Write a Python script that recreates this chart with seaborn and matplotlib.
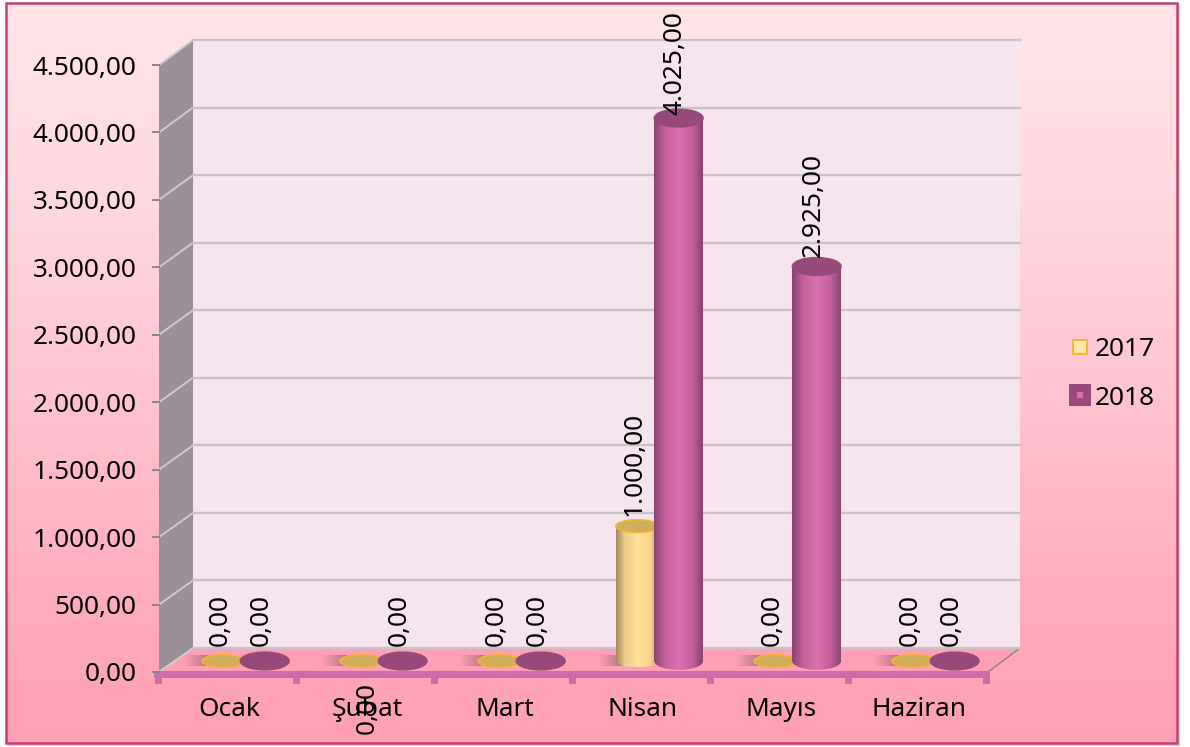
import numpy as np
import pandas as pd
import matplotlib
matplotlib.use("Agg")
import matplotlib.pyplot as plt
import seaborn as sns
from matplotlib.colors import LinearSegmentedColormap
from matplotlib.lines import Line2D
from matplotlib.patches import Ellipse, Polygon, Rectangle

months = ["Ocak", "Şubat", "Mart", "Nisan", "Mayıs", "Haziran"]
values_2017 = [0, 0, 0, 1000, 0, 0]
values_2018 = [0, 0, 0, 4025, 2925, 0]
y_ticks = [0, 500, 1000, 1500, 2000, 2500, 3000, 3500, 4000, 4500]
y_labels = ["0,00", "500,00", "1.000,00", "1.500,00", "2.000,00",
            "2.500,00", "3.000,00", "3.500,00", "4.000,00", "4.500,00"]
label_2017 = ["0,00", "0,00", "0,00", "1.000,00", "0,00", "0,00"]
label_2018 = ["0,00", "0,00", "0,00", "4.025,00", "2.925,00", "0,00"]

W, H = 1190, 747

sns.set_style("white")
plt.rcParams["font.family"] = ["Noto Sans", "DejaVu Sans"]
plt.rcParams["font.size"] = 18.9
plt.rcParams["text.color"] = "black"

df = pd.DataFrame({
    "month": months * 2,
    "year": ["2017"] * 6 + ["2018"] * 6,
    "value": values_2017 + values_2018,
})


def px_axes(fig, left, top, right, bottom, **kw):
    # axes from pixel box, y counted from top of the image
    return fig.add_axes([left / W, 1 - bottom / H, (right - left) / W, (bottom - top) / H], **kw)


fig = plt.figure(figsize=(W / 100, H / 100), dpi=100, facecolor="white")

# background and walls, pixel coordinates
deco = px_axes(fig, 0, 0, W, H, zorder=0)
deco.set_xlim(0, W)
deco.set_ylim(H, 0)
deco.axis("off")

bg_cmap = LinearSegmentedColormap.from_list(
    "bg", [(0, "#ffe5e9"), (0.27, "#ffd8e0"), (0.55, "#ffc2d0"), (0.8, "#ffadc0"), (1, "#ff9fb3")])
grad = np.linspace(0, 1, 256).reshape(-1, 1)
deco.add_patch(Rectangle((8, 5), 1172, 741, fc="#d8d4d6", ec="none"))
deco.imshow(grad, cmap=bg_cmap, extent=(6, 1177, 743, 3), aspect="auto", zorder=1.5)
deco.add_patch(Rectangle((6, 3), 1171, 740, fill=False, ec="#c2416f", lw=1.8, zorder=1.6))
deco.set_xlim(0, W)
deco.set_ylim(H, 0)

deco.add_patch(Polygon([(193, 40), (1020, 40), (1020, 648), (193, 648)], fc="#f6e4ef", ec="none", zorder=2))
deco.add_patch(Polygon([(159, 66), (193, 40), (193, 648), (159, 672)], fc="#9a8f96", ec="none", zorder=2))
deco.add_patch(Polygon([(159, 672), (193, 648), (1020, 648), (988, 672)], fc="#ffa0b7", ec="none", zorder=2))
deco.plot([988, 1020], [672, 648], color="#8a7f88", lw=1, zorder=2)

for t in y_ticks:
    yf = 672 - t * 607 / 4500
    yb = 648 - t * 608 / 4500
    deco.plot([159, 193], [yf, yb], color="#cfcacd", lw=1.4, zorder=2.1)
    deco.plot([193, 1020], [yb, yb], color="#c8c4c6", lw=1.7, zorder=2.1)

# pink front axis
deco.add_patch(Rectangle((154, 671), 836, 7, fc="#cd6ca6", ec="none", zorder=3))
for i in range(7):
    deco.add_patch(Rectangle((155 + i * 138, 672), 7, 12, fc="#cd6ca6", ec="none", zorder=3))

# front axes: ticks and labels
ax = px_axes(fig, 160, 65, 988, 672, zorder=1)
ax.patch.set_alpha(0)
ax.set_xlim(-0.5, 5.5)
ax.set_ylim(0, 4500)
ax.set_xticks(range(len(months)), months)
ax.set_yticks(y_ticks, y_labels)
ax.tick_params(axis="y", length=5.8, width=1.4, color="#888888", pad=11, labelcolor="black", left=True)
ax.tick_params(axis="x", length=0, pad=18, labelcolor="black")
sns.despine(ax=ax, left=True, bottom=True)

# bars sit on the floor, a bit behind the front axis
bars = px_axes(fig, 175, 54, 1003, 661, zorder=2)
bars.patch.set_alpha(0)
sns.barplot(data=df, x="month", y="value", hue="year", order=months, hue_order=["2017", "2018"],
            width=0.6, gap=0, palette=["#ffe297", "#d96fb0"], legend=False, ax=bars)
bars.set_xlim(-0.5, 5.5)
bars.set_ylim(0, 4500)
bars.axis("off")

cyl = {
    "2017": dict(cmap=[(0, "#a08a5c"), (0.2, "#ecca86"), (0.5, "#ffe297"), (0.8, "#f4d68e"), (1, "#c0a060")],
                 top="#cfae5c", edge="#f2b233", scale=1.03, ry=46, lw=1.3),
    "2018": dict(cmap=[(0, "#87446e"), (0.22, "#c4609c"), (0.5, "#db71b1"), (0.78, "#c4609c"), (1, "#87446e")],
                 top="#96497a", edge="#96497a", scale=1.18, ry=66, lw=1.0),
}
hgrad = np.linspace(0, 1, 128).reshape(1, -1)
shadow = np.zeros((1, 64, 4))
shadow[0, :, :3] = (0.34, 0.22, 0.28)
shadow[0, :, 3] = np.linspace(0, 0.45, 64)
patches = list(bars.patches)[:12]
series = [("2017", patches[:6], label_2017, 3), ("2018", patches[6:], label_2018, 4)]

for year, rects, labels, zb in series:
    st = cyl[year]
    cm = LinearSegmentedColormap.from_list(year, st["cmap"])
    for r, lab in zip(rects, labels):
        cx = r.get_x() + r.get_width() / 2
        w = r.get_width() * st["scale"]
        h = r.get_height()
        r.set_visible(False)
        if year == "2017":
            # soft shadow on the floor
            bars.imshow(shadow, extent=(cx - w / 2 - 0.13, cx - w / 2 + 0.05, -35, 45), aspect="auto",
                        interpolation="bilinear", zorder=zb - 1, clip_on=False)
        if h > 0:
            # rounded foot of the cylinder
            base = Ellipse((cx, 0), w, st["ry"] * 2, fc="none", ec="none", zorder=zb, clip_on=False)
            bars.add_patch(base)
            im = bars.imshow(hgrad, cmap=cm, extent=(cx - w / 2, cx + w / 2, -st["ry"], st["ry"]),
                             aspect="auto", interpolation="bilinear", zorder=zb)
            im.set_clip_box(fig.bbox)
            im.set_clip_path(base)
            bars.imshow(hgrad, cmap=cm, extent=(cx - w / 2, cx + w / 2, 0, h), aspect="auto",
                        interpolation="bilinear", zorder=zb)
        bars.add_patch(Ellipse((cx, h), w, st["ry"] * 2, fc=st["top"], ec=st["edge"], lw=st["lw"],
                               zorder=zb + 0.5, clip_on=False))

        # data labels, the february 2017 one falls below the axis in the original
        dx, dy, va = -2.5, 11 if h == 0 else 7, "bottom"
        if year == "2017" and r is rects[1]:
            dx, dy, va = 4.5, -15, "top"
        elif h > 4000:
            dy = 2
        bars.annotate(lab, (cx, h), xytext=(dx, dy), textcoords="offset points", rotation=90,
                      ha="center", va=va, color="black", zorder=10, annotation_clip=False)

bars.set_xlim(-0.5, 5.5)
bars.set_ylim(0, 4500)

handles = [
    Line2D([], [], ls="none", marker="s", ms=9.4, mfc="#ffe9b0", mec="#f7b93c", mew=1.5),
    Line2D([], [], ls="none", marker="s", ms=9.4, mfc="#d96fb0", mec="#96497a", mew=5.8),
]
fig.legend(handles, ["2017", "2018"], loc="center left", bbox_to_anchor=(1050 / W, 1 - 374 / H), frameon=False,
           labelspacing=0.88, handletextpad=-0.08, handlelength=1.3, borderpad=0)

fig.savefig("out.png", dpi=100)
